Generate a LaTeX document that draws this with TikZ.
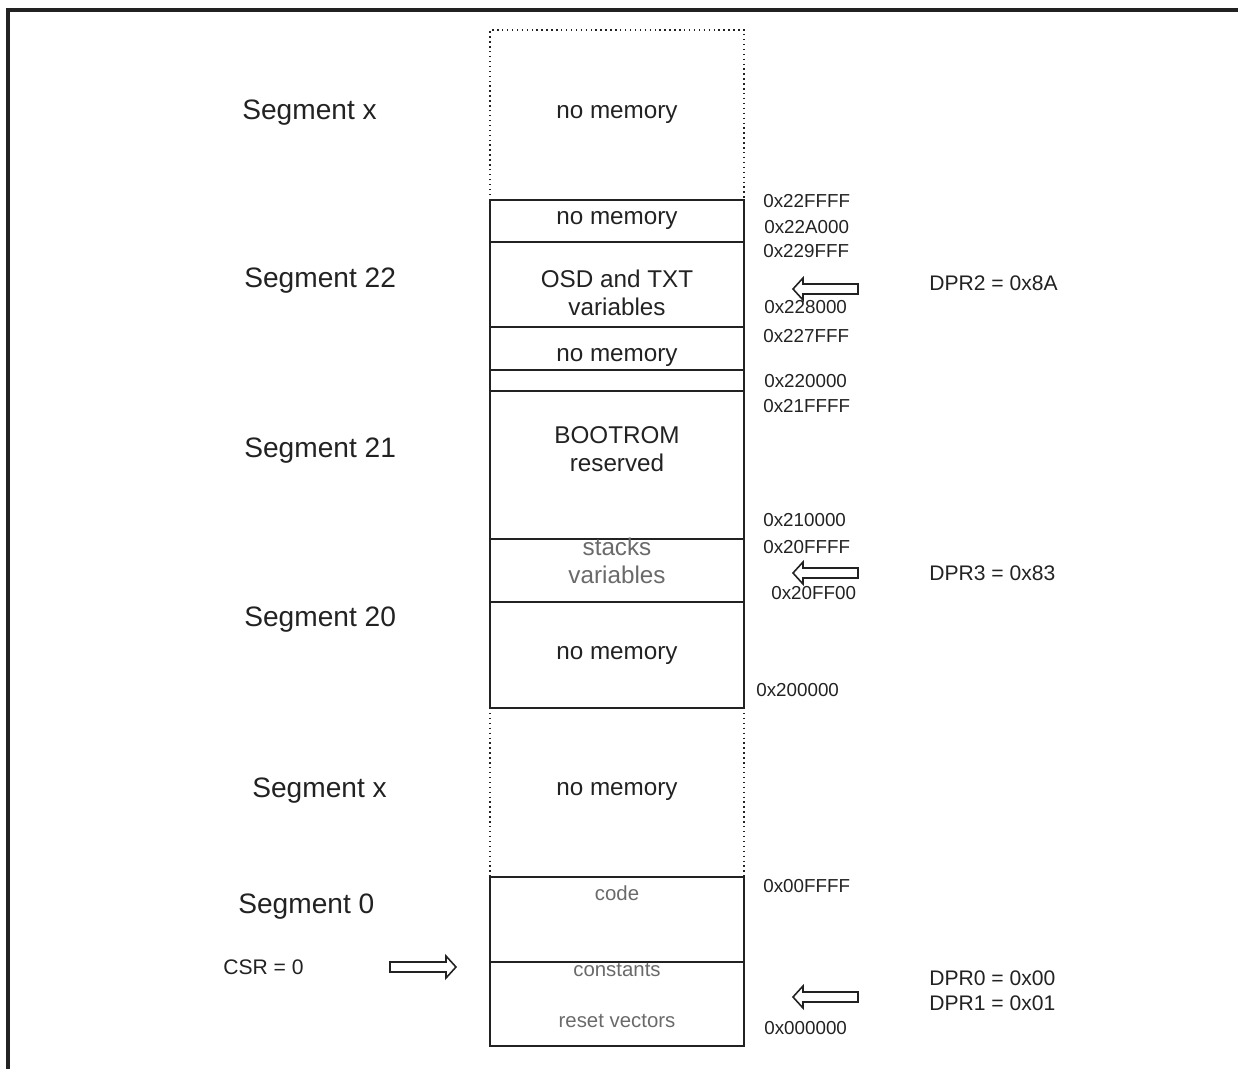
\documentclass[tikz,border=0pt]{standalone}
\usepackage{fontspec}
\setmainfont{Liberation Sans}
\usepackage{xcolor}
\usepackage{tikz}
\usetikzlibrary{positioning}
\definecolor{ink}{HTML}{222222}
\definecolor{greytxt}{HTML}{6A6A6A}
\tikzstyle{frame} = [line width=2pt, draw=ink]
\tikzstyle{blockarr} = [draw=ink, line width=0.9pt, fill=white, line join=miter]

\begin{document}
\begin{tikzpicture}[x=0.02cm, y=-0.02cm,
		seg/.style={font=\fontsize{16}{19}\selectfont, text=ink, anchor=west, inner sep=0pt},
		addr/.style={font=\fontsize{10.7}{12}\selectfont, text=ink, anchor=west, inner sep=0pt},
		reg/.style={font=\fontsize{12}{14}\selectfont, text=ink, anchor=west, align=left, inner sep=0pt},
		area/.style={font=\fontsize{13.8}{15.9}\selectfont, text=ink, align=center},
		faint/.style={font=\fontsize{13.8}{15.9}\selectfont, text=greytxt, align=center},
		small/.style={font=\fontsize{11.6}{14}\selectfont, text=greytxt},
		box/.style={draw=ink, line width=1pt},
		open/.style={draw=ink, dotted, line width=0.8pt}]
		
		\useasboundingbox (0,0) rectangle (1238,1069);
		\draw[frame] (8,1069) -- (8,10) -- (1238,10);
		
		% memory column
		\draw[open] (490,200) -- (490,30) -- (744,30) -- (744,200);
		\draw[box] (490,200) rectangle (744,242);
		\draw[box] (490,242) rectangle (744,327);
		\draw[box] (490,327) rectangle (744,370);
		\draw[box] (490,370) rectangle (744,391);
		\draw[box] (490,391) rectangle (744,539);
		\draw[box] (490,539) rectangle (744,602);
		\draw[box] (490,602) rectangle (744,708);
		\draw[open] (490,708) -- (490,877);
		\draw[open] (744,708) -- (744,877);
		\draw[box] (490,877) rectangle (744,962);
		\draw[box] (490,962) rectangle (744,1046);
		
		\node (nomemX) [area] at (617,114) {no memory};
		\node (nomemA) [area] at (617,220) {no memory};
		\node (osd) [area] at (617,293) {OSD and TXT\\variables};
		\node (nomemB) [area] at (617,357) {no memory};
		\node (boot) [area] at (617,449) {BOOTROM\\reserved};
		\node (stacks) [faint] at (617,561) {stacks\\variables};
		\node (nomemC) [area] at (617,655) {no memory};
		\node (nomemY) [area] at (617,791) {no memory};
		\node (code) [small] at (617,893) {code};
		\node (consts) [small] at (617,970) {constants};
		\node (resetv) [small] at (617,1021) {reset vectors};
		
		% segments
		\node (segxtop) [seg] at (242,113) {Segment x};
		\node (seg22) [seg] at (244,281) {Segment 22};
		\node (seg21) [seg] at (244,451) {Segment 21};
		\node (seg20) [seg] at (244,620) {Segment 20};
		\node (segxlow) [seg] at (252,791) {Segment x};
		\node (seg0) [seg] at (238,907) {Segment 0};
		\node (csr) [reg] at (223,967) {CSR = 0};
		
		% addresses
		\node (a22ffff) [addr] at (763,201) {0x22FFFF};
		\node (a22a000) [addr] at (764,227) {0x22A000};
		\node (a229fff) [addr] at (763,251) {0x229FFF};
		\node (a228000) [addr] at (764,307) {0x228000};
		\node (a227fff) [addr] at (763,336) {0x227FFF};
		\node (a220000) [addr] at (764,381) {0x220000};
		\node (a21ffff) [addr] at (763,406) {0x21FFFF};
		\node (a210000) [addr] at (763,520) {0x210000};
		\node (a20ffff) [addr] at (763,547) {0x20FFFF};
		\node (a20ff00) [addr] at (771,593) {0x20FF00};
		\node (a200000) [addr] at (756,690) {0x200000};
		\node (a00ffff) [addr] at (763,886) {0x00FFFF};
		\node (a000000) [addr] at (764,1028) {0x000000};
		
		% data page registers
		\node (dpr2) [reg] at (929,283) {DPR2 = 0x8A};
		\node (dpr3) [reg] at (929,573) {DPR3 = 0x83};
		\node (dpr01) [reg] at (929,991) {DPR0 = 0x00\\DPR1 = 0x01};
		
		% hollow pointers
		\foreach \y in {289,573,997}
			\draw[blockarr] (858,\y-5) -- (803,\y-5) -- (803,\y-11) -- (793,\y) -- (803,\y+11) -- (803,\y+5) -- (858,\y+5) -- cycle;
		\draw[blockarr] (390,962) -- (446,962) -- (446,956) -- (456,967) -- (446,978) -- (446,972) -- (390,972) -- cycle;
	\end{tikzpicture}
\end{document}
